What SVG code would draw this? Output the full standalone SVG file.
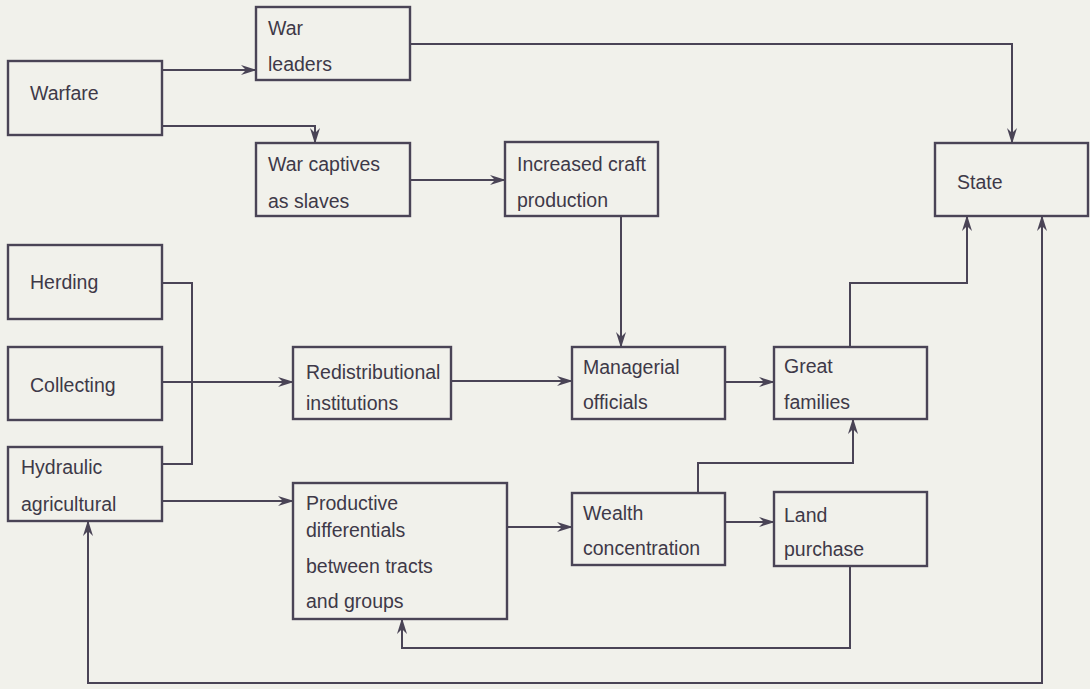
<svg xmlns="http://www.w3.org/2000/svg" width="1090" height="689" viewBox="0 0 1090 689">
<defs>
<marker id="ah" viewBox="0 0 16 10" refX="15" refY="5" markerWidth="16" markerHeight="10" markerUnits="userSpaceOnUse" orient="auto-start-reverse">
<path d="M0,0 L16,5 L0,10 L5,5 z" fill="#4a4456"/>
</marker>
<style>
.box{fill:none;stroke:#4a4456;stroke-width:2.4}
.t{font-family:"Liberation Sans",Arial,sans-serif;font-size:19.5px;fill:#3e3948}
.c{fill:none;stroke:#4a4456;stroke-width:2}
</style>
</defs>
<rect x="0" y="0" width="1090" height="689" fill="#f1f1eb"/>
<g id="connectors">
<path class="c" d="M162,70 H256" marker-end="url(#ah)"/>
<path class="c" d="M162,126 H315 V143" marker-end="url(#ah)"/>
<path class="c" d="M410,44 H1012 V143" marker-end="url(#ah)"/>
<path class="c" d="M410,180 H505" marker-end="url(#ah)"/>
<path class="c" d="M621,216 V347" marker-end="url(#ah)"/>
<path class="c" d="M162,283 H192 V464 H162"/>
<path class="c" d="M162,382 H293" marker-end="url(#ah)"/>
<path class="c" d="M162,501 H293" marker-end="url(#ah)"/>
<path class="c" d="M451,381 H572" marker-end="url(#ah)"/>
<path class="c" d="M725,382 H774" marker-end="url(#ah)"/>
<path class="c" d="M507,527 H572" marker-end="url(#ah)"/>
<path class="c" d="M725,522 H774" marker-end="url(#ah)"/>
<path class="c" d="M698,493 V463 H853 V419" marker-end="url(#ah)"/>
<path class="c" d="M850,347 V283 H967 V216" marker-end="url(#ah)"/>
<path class="c" d="M850,566 V648 H402 V619" marker-end="url(#ah)"/>
<path class="c" d="M1042,216 V683 H88 V521" marker-start="url(#ah)" marker-end="url(#ah)"/>
</g>
<g id="warfare"><rect class="box" x="8" y="61" width="154" height="74"/><text class="t" x="30" y="100">Warfare</text></g>
<g id="war-leaders"><rect class="box" x="256" y="7" width="154" height="73"/><text class="t" x="268" y="35">War</text><text class="t" x="268" y="71">leaders</text></g>
<g id="war-captives"><rect class="box" x="256" y="143" width="154" height="73"/><text class="t" x="268" y="171">War captives</text><text class="t" x="268" y="208">as slaves</text></g>
<g id="increased-craft"><rect class="box" x="505" y="142" width="153" height="74"/><text class="t" x="517" y="171">Increased craft</text><text class="t" x="517" y="207">production</text></g>
<g id="state"><rect class="box" x="935" y="143" width="153" height="73"/><text class="t" x="957" y="189">State</text></g>
<g id="herding"><rect class="box" x="8" y="245" width="154" height="74"/><text class="t" x="30" y="289">Herding</text></g>
<g id="collecting"><rect class="box" x="8" y="347" width="154" height="73"/><text class="t" x="30" y="392">Collecting</text></g>
<g id="hydraulic"><rect class="box" x="8" y="447" width="154" height="74"/><text class="t" x="21" y="474">Hydraulic</text><text class="t" x="21" y="511">agricultural</text></g>
<g id="redistributional"><rect class="box" x="293" y="347" width="158" height="72"/><text class="t" x="306" y="379">Redistributional</text><text class="t" x="306" y="410">institutions</text></g>
<g id="managerial"><rect class="box" x="572" y="347" width="153" height="72"/><text class="t" x="583" y="374">Managerial</text><text class="t" x="583" y="409">officials</text></g>
<g id="great-families"><rect class="box" x="774" y="347" width="153" height="72"/><text class="t" x="784" y="373">Great</text><text class="t" x="784" y="409">families</text></g>
<g id="productive"><rect class="box" x="293" y="483" width="214" height="136"/><text class="t" x="306" y="510">Productive</text><text class="t" x="306" y="537">differentials</text><text class="t" x="306" y="573">between tracts</text><text class="t" x="306" y="608">and groups</text></g>
<g id="wealth"><rect class="box" x="572" y="493" width="153" height="72"/><text class="t" x="583" y="520">Wealth</text><text class="t" x="583" y="555">concentration</text></g>
<g id="land"><rect class="box" x="774" y="492" width="153" height="74"/><text class="t" x="784" y="522">Land</text><text class="t" x="784" y="556">purchase</text></g>
</svg>
